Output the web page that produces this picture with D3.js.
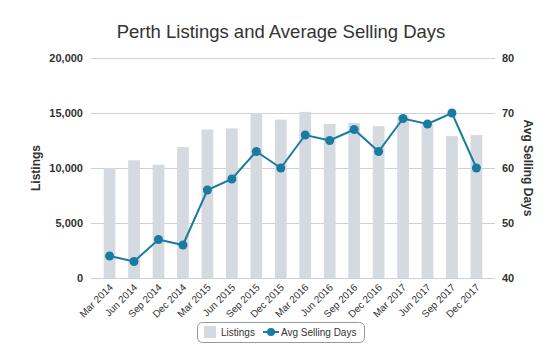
<!DOCTYPE html>
<html><head><meta charset="utf-8">
<script src="https://cdn.jsdelivr.net/npm/d3@7"></script>
<style>body{margin:0;background:#fff;font-family:"Liberation Sans",Arial,sans-serif;}</style>
</head><body><svg id="c" width="558" height="358"></svg>
<script>
const categories = ["Mar 2014","Jun 2014","Sep 2014","Dec 2014","Mar 2015","Jun 2015","Sep 2015","Dec 2015","Mar 2016","Jun 2016","Sep 2016","Dec 2016","Mar 2017","Jun 2017","Sep 2017","Dec 2017"];
const listings = [10000,10700,10300,11900,13500,13600,15000,14400,15100,14000,14100,13800,14700,14000,12900,13000];
const avgDays = [44,43,47,46,56,58,63,60,66,65,67,63,69,68,70,60];
const leftTicks = [0,5000,10000,15000,20000];
const rightTicks = [40,50,60,70,80];

const svg = d3.select("#c");
const m = {l:91, r:495, t:58, b:278};
const x = d3.scaleBand().domain(categories).range([m.l, m.r]).padding(0.52);
const yL = d3.scaleLinear().domain([0,20000]).range([m.b, m.t]);
const yR = d3.scaleLinear().domain([40,80]).range([m.b, m.t]);
const fmt = d3.format(",");

svg.append("text").attr("x",281).attr("y",38).attr("text-anchor","middle")
  .style("font-size","18.5px").style("fill","#333").text("Perth Listings and Average Selling Days");

// grid
svg.append("g").selectAll("line").data(leftTicks.slice(1)).join("line")
  .attr("x1",m.l).attr("x2",m.r).attr("y1",d=>yL(d)+0.5).attr("y2",d=>yL(d)+0.5)
  .attr("stroke","#d0d0d0").attr("stroke-width",1);

// bars
svg.append("g").selectAll("rect").data(categories).join("rect")
  .attr("x",d=>x(d)).attr("width",x.bandwidth())
  .attr("y",(d,i)=>yL(listings[i])).attr("height",(d,i)=>yL(0)-yL(listings[i]))
  .attr("fill","#d5d9e0");

// baseline
svg.append("line").attr("x1",m.l).attr("x2",m.r).attr("y1",m.b+0.5).attr("y2",m.b+0.5)
  .attr("stroke","#ccd0d6");

// left axis
const gL = svg.append("g").attr("transform",`translate(${m.l-8},0)`)
  .call(d3.axisLeft(yL).tickValues(leftTicks).tickFormat(fmt).tickSize(0).tickPadding(0));
gL.select(".domain").remove();
gL.selectAll("text").style("font-size","11px").style("font-weight","bold").style("fill","#333")
  .style("font-family","'Liberation Sans',Arial,sans-serif");

const gR = svg.append("g").attr("transform",`translate(${m.r+7},0)`)
  .call(d3.axisRight(yR).tickValues(rightTicks).tickSize(0).tickPadding(0));
gR.select(".domain").remove();
gR.selectAll("text").style("font-size","11px").style("font-weight","bold").style("fill","#333")
  .style("font-family","'Liberation Sans',Arial,sans-serif");

// x axis
const gX = svg.append("g").attr("transform",`translate(0,${m.b})`)
  .call(d3.axisBottom(x).tickSize(0).tickPadding(0));
gX.select(".domain").remove();
gX.selectAll("text").attr("text-anchor","end").attr("dy",0).attr("y",0)
  .attr("transform","translate(4,10) rotate(-45)")
  .style("font-size","10px").style("fill","#333")
  .style("font-family","'Liberation Sans',Arial,sans-serif");

// axis titles
svg.append("text").attr("transform","translate(40,168) rotate(-90)").attr("text-anchor","middle")
  .style("font-size","12px").style("font-weight","bold").style("fill","#333").text("Listings");
svg.append("text").attr("transform","translate(524,168) rotate(90)").attr("text-anchor","middle")
  .style("font-size","12px").style("font-weight","bold").style("fill","#333").text("Avg Selling Days");

// line
const lineColor = "#1a7ba0";
const line = d3.line().x((d,i)=>x(categories[i])+x.bandwidth()/2).y(d=>yR(d));
svg.append("path").datum(avgDays).attr("d",line).attr("fill","none").attr("stroke",lineColor).attr("stroke-width",2);
svg.append("g").selectAll("circle").data(avgDays).join("circle")
  .attr("cx",(d,i)=>x(categories[i])+x.bandwidth()/2).attr("cy",d=>yR(d)).attr("r",4.5).attr("fill",lineColor);

// legend
const lg = svg.append("g");
lg.append("rect").attr("x",197.5).attr("y",322.5).attr("width",167).attr("height",20).attr("rx",5)
  .attr("fill","#fff").attr("stroke","#999");
lg.append("rect").attr("x",204).attr("y",326).attr("width",12).attr("height",12).attr("fill","#d5d9e0");
lg.append("text").attr("x",221).attr("y",336).style("font-size","10px").style("fill","#333").text("Listings");
lg.append("line").attr("x1",263).attr("x2",279).attr("y1",332).attr("y2",332).attr("stroke",lineColor).attr("stroke-width",2);
lg.append("circle").attr("cx",271).attr("cy",332).attr("r",4).attr("fill",lineColor);
lg.append("text").attr("x",281).attr("y",336).style("font-size","10px").style("fill","#333").text("Avg Selling Days");
</script></body></html>
